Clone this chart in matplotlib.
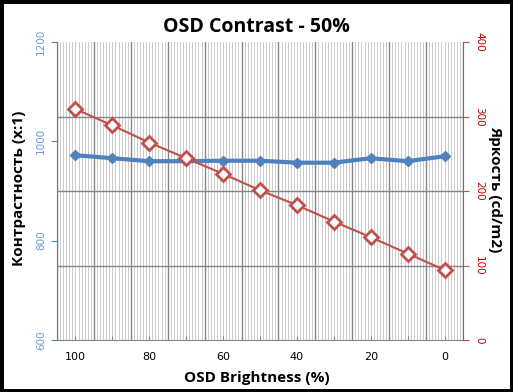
import numpy as np
import matplotlib
matplotlib.use("Agg")
import matplotlib.pyplot as plt
from matplotlib.patches import Rectangle

categories = ["100", "90", "80", "70", "60", "50", "40", "30", "20", "10", "0"]
contrast = [972, 966, 960, 960, 961, 961, 957, 957, 966, 960, 970]
brightness = [310, 288, 265, 244, 223, 201, 181, 159, 138, 116, 94]
left_ticks = [600, 800, 1000, 1200]
right_ticks = [0, 100, 200, 300, 400]

title = "OSD Contrast - 50%"
xlabel = "OSD Brightness (%)"
ylabel_left = "Контрастность (x:1)"
ylabel_right = "Яркость (cd/m2)"

blue = "#4F81BD"
blue_lbl = "#6A9AD8"
red = "#C0504D"
red_lbl = "#C00000"
grid_dark = "#868686"
hatch = "#cccccc"

fig = plt.figure(figsize=(5.13, 3.92), dpi=100)
ax1 = fig.add_axes([57/513, 52/392, 406/513, 298/392])
ax2 = ax1.twinx()

x = np.arange(len(categories))
ax1.set_xlim(-0.5, len(categories) - 0.5)
ax1.set_ylim(left_ticks[0], left_ticks[-1])
ax2.set_ylim(right_ticks[0], right_ticks[-1])

# hatch-like minor vertical lines (1 px wide)
hx = np.arange(-0.5, len(categories) - 0.5, 1/12)
ax1.vlines(hx, left_ticks[0], left_ticks[-1], colors=hatch, lw=0.72,
           antialiased=False, zorder=0)

# major vertical gridlines at category boundaries
ax1.set_xticks(np.arange(-0.5, len(categories) + 0.5, 1), minor=True)
ax1.grid(True, which="minor", axis="x", color=grid_dark, lw=1.0, zorder=1)
ax1.tick_params(axis="x", which="minor", length=0)

# horizontal gridlines matching right-axis ticks
scale = (left_ticks[-1] - left_ticks[0]) / (right_ticks[-1] - right_ticks[0])
hy = [left_ticks[0] + (t - right_ticks[0]) * scale for t in right_ticks]
ax1.set_yticks(hy, minor=True)
ax1.grid(True, which="minor", axis="y", color=grid_dark, lw=1.0, zorder=1)
ax1.tick_params(axis="y", which="minor", length=0)
ax1.set_axisbelow(True)

ax1.set_xticks(x)
ax1.set_xticklabels([c if i % 2 == 0 else "" for i, c in enumerate(categories)],
                    fontsize=8, family="DejaVu Sans")
ax1.tick_params(axis="x", which="major", direction="in", length=3, color=grid_dark, pad=9)

ax1.set_yticks(left_ticks)
ax1.set_yticklabels([str(t) for t in left_ticks], rotation=90, va="center",
                    fontsize=7.5, color=blue_lbl)
ax1.tick_params(axis="y", which="major", length=4, color=blue, pad=4)

ax2.set_yticks(right_ticks)
ax2.set_yticklabels([str(t) for t in right_ticks], rotation=-90, va="center",
                    fontsize=7.5, color=red_lbl)
ax2.tick_params(axis="y", length=4, color=red, pad=4)

ax1.plot(x, contrast, color=blue, lw=3, marker="D", ms=5, mfc=blue, mec=blue, zorder=3)
ax2.plot(x, brightness, color=red, lw=1.5, marker="D", ms=7, mfc="white", mec=red, mew=2, zorder=3)

for a in (ax1, ax2):
    a.spines["top"].set_visible(False)
    a.spines["bottom"].set_color(grid_dark)
ax2.spines["left"].set_visible(False)
ax1.spines["left"].set_color(blue)
ax1.spines["right"].set_visible(False)
ax2.spines["right"].set_color(red)
ax2.spines["bottom"].set_visible(False)

fig.text(0.5, 1 - 27/392, title, ha="center", va="center",
         fontsize=14, fontweight="bold", family="Open Sans")
fig.text(0.5, 1 - 378/392, xlabel, ha="center", va="center",
         fontsize=11, fontweight="bold", family="Open Sans")
fig.text(19/513, 1 - 188/392, ylabel_left, ha="center", va="center", rotation=90,
         fontsize=11, fontweight="bold", family="Open Sans")
fig.text(495/513, 1 - 189/392, ylabel_right, ha="center", va="center", rotation=-90,
         fontsize=11, fontweight="bold", family="Open Sans")

fig.patches.append(Rectangle((0, 0), 1, 1, transform=fig.transFigure, fill=False,
                             edgecolor="black", lw=5, zorder=10))

fig.savefig("out.png", dpi=100)
